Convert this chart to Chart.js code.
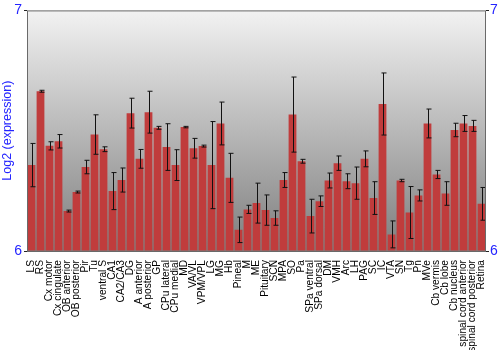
<!DOCTYPE html>
<html>
<head>
<meta charset="utf-8">
<script src="https://cdn.jsdelivr.net/npm/chart.js@4/dist/chart.umd.min.js"></script>
<style>
  html, body { margin: 0; padding: 0; background: #fff; }
  #wrap { width: 500px; height: 350px; }
</style>
</head>
<body>
<div id="wrap"><canvas id="exprChart" width="500" height="350"></canvas></div>
<script>
// tissues / regions along the x axis
const regions = [
  'LS', 'RS', 'Cx motor', 'Cx cingulate', 'OB anterior', 'OB posterior', 'Pir', 'Tu',
  'ventral S', 'CA1', 'CA2/CA3', 'DG', 'A anterior', 'A posterior', 'GP', 'CPu lateral',
  'CPu medial', 'MD', 'VA/VL', 'VPM/VPL', 'LG', 'MG', 'Hb', 'Pineal', 'M', 'ME',
  'Pituitary', 'SCN', 'MPA', 'SO', 'Pa', 'SPa ventral', 'SPa dorsal', 'DM', 'VMH', 'Arc',
  'LH', 'PAG', 'SC', 'IC', 'VTA', 'SN', 'Tg', 'Pn', 'MVe', 'Cb vermis', 'Cb lobe',
  'Cb nucleus', 'spinal cord anterior', 'spinal cord posterior', 'Retina'
];

// mean log2 expression
const meanExpr = [
  6.357, 6.664, 6.437, 6.456, 6.166, 6.245, 6.349, 6.484,
  6.423, 6.249, 6.295, 6.573, 6.383, 6.577, 6.512, 6.432,
  6.357, 6.515, 6.427, 6.436, 6.357, 6.530, 6.304, 6.088, 6.173, 6.199,
  6.170, 6.137, 6.295, 6.567, 6.373, 6.145, 6.207, 6.293, 6.365, 6.290,
  6.282, 6.383, 6.220, 6.611, 6.069, 6.293, 6.160, 6.231, 6.530, 6.318, 6.239,
  6.503, 6.530, 6.520, 6.196
];

// error (+/-)
const errExpr = [
  0.090, 0.004, 0.017, 0.028, 0.004, 0.004, 0.028, 0.082,
  0.010, 0.077, 0.050, 0.062, 0.039, 0.087, 0.006, 0.097,
  0.064, 0.003, 0.041, 0.004, 0.181, 0.089, 0.102, 0.053, 0.017, 0.083,
  0.063, 0.030, 0.031, 0.156, 0.008, 0.070, 0.022, 0.031, 0.030, 0.031,
  0.067, 0.033, 0.068, 0.129, 0.056, 0.005, 0.108, 0.023, 0.060, 0.017, 0.049,
  0.028, 0.033, 0.023, 0.068
];

const yTicks = [6, 7];
const blue = '#2424ff';

// grey gradient behind the bars plus a frame
const backdrop = {
  id: 'backdrop',
  beforeDraw(chart) {
    const { ctx, chartArea: a } = chart;
    const g = ctx.createLinearGradient(0, a.top, 0, a.bottom);
    g.addColorStop(0, '#f2f2f2');
    g.addColorStop(1, '#7e7e7e');
    ctx.save();
    ctx.fillStyle = g;
    ctx.fillRect(a.left, a.top, a.right - a.left, a.bottom - a.top);
    ctx.restore();
  },
  afterDraw(chart) {
    const { ctx, chartArea: a } = chart;
    ctx.save();
    ctx.strokeStyle = '#6a6a6a';
    ctx.lineWidth = 1;
    ctx.strokeRect(a.left + 0.5, a.top + 0.5, a.right - a.left - 1, a.bottom - a.top);
    ctx.restore();
  }
};

// error bars with small caps
const errorBars = {
  id: 'errorBars',
  afterDatasetsDraw(chart) {
    const { ctx } = chart;
    const y = chart.scales.y;
    const meta = chart.getDatasetMeta(0);
    ctx.save();
    ctx.strokeStyle = '#111';
    ctx.lineWidth = 1;
    meta.data.forEach((bar, i) => {
      const x = Math.round(bar.x) + 0.5;
      const top = y.getPixelForValue(meanExpr[i] + errExpr[i]);
      const bot = y.getPixelForValue(meanExpr[i] - errExpr[i]);
      ctx.beginPath();
      ctx.moveTo(x, top);
      ctx.lineTo(x, bot);
      ctx.moveTo(x - 2, top);
      ctx.lineTo(x + 3, top);
      ctx.moveTo(x - 2, bot);
      ctx.lineTo(x + 3, bot);
      ctx.stroke();
    });
    ctx.restore();
  }
};

function barFill(context) {
  const chart = context.chart;
  const bar = chart.getDatasetMeta(0).data[context.dataIndex];
  if (!bar || !bar.width) return '#c03c3c';
  const x0 = bar.x - bar.width / 2;
  const g = chart.ctx.createLinearGradient(x0, 0, x0 + bar.width, 0);
  g.addColorStop(0, '#a33030');
  g.addColorStop(0.15, '#cc4c4c');
  g.addColorStop(0.55, '#bf3f3f');
  g.addColorStop(1, '#8e1f1f');
  return g;
}

new Chart(document.getElementById('exprChart').getContext('2d'), {
  type: 'bar',
  data: {
    labels: regions,
    datasets: [{
      data: meanExpr,
      base: 6,
      backgroundColor: barFill,
      borderWidth: 0,
      categoryPercentage: 0.9,
      barPercentage: 0.96
    }]
  },
  plugins: [backdrop, errorBars],
  options: {
    responsive: false,
    animation: false,
    layout: { padding: { top: 9, left: 0, right: 0, bottom: 0 } },
    plugins: { legend: { display: false }, tooltip: { enabled: false } },
    scales: {
      x: {
        grid: { display: false },
        border: { display: false },
        ticks: {
          autoSkip: false,
          maxRotation: 90,
          minRotation: 90,
          padding: 1,
          color: '#000',
          font: { family: 'Liberation Sans', size: 10.2 }
        },
        afterFit(scale) { scale.height = 99; }
      },
      y: {
        position: 'left',
        min: 6,
        max: 7,
        afterBuildTicks(scale) { scale.ticks = yTicks.map(v => ({ value: v })); },
        grid: { drawOnChartArea: false, tickLength: 3, color: '#222' },
        border: { display: false },
        ticks: { color: blue, padding: 2, font: { family: 'Liberation Sans', size: 14 } },
        title: {
          display: true,
          text: 'Log2 (expression)',
          color: blue,
          padding: 0,
          font: { family: 'Liberation Sans', size: 12.5 }
        },
        afterFit(scale) { scale.width = 27; }
      },
      y2: {
        position: 'right',
        min: 6,
        max: 7,
        afterBuildTicks(scale) { scale.ticks = yTicks.map(v => ({ value: v })); },
        grid: { drawOnChartArea: false, tickLength: 3, color: '#222' },
        border: { display: false },
        ticks: { color: blue, padding: 1, font: { family: 'Liberation Sans', size: 14 } },
        afterFit(scale) { scale.width = 14; }
      }
    }
  }
});
</script>
</body>
</html>
